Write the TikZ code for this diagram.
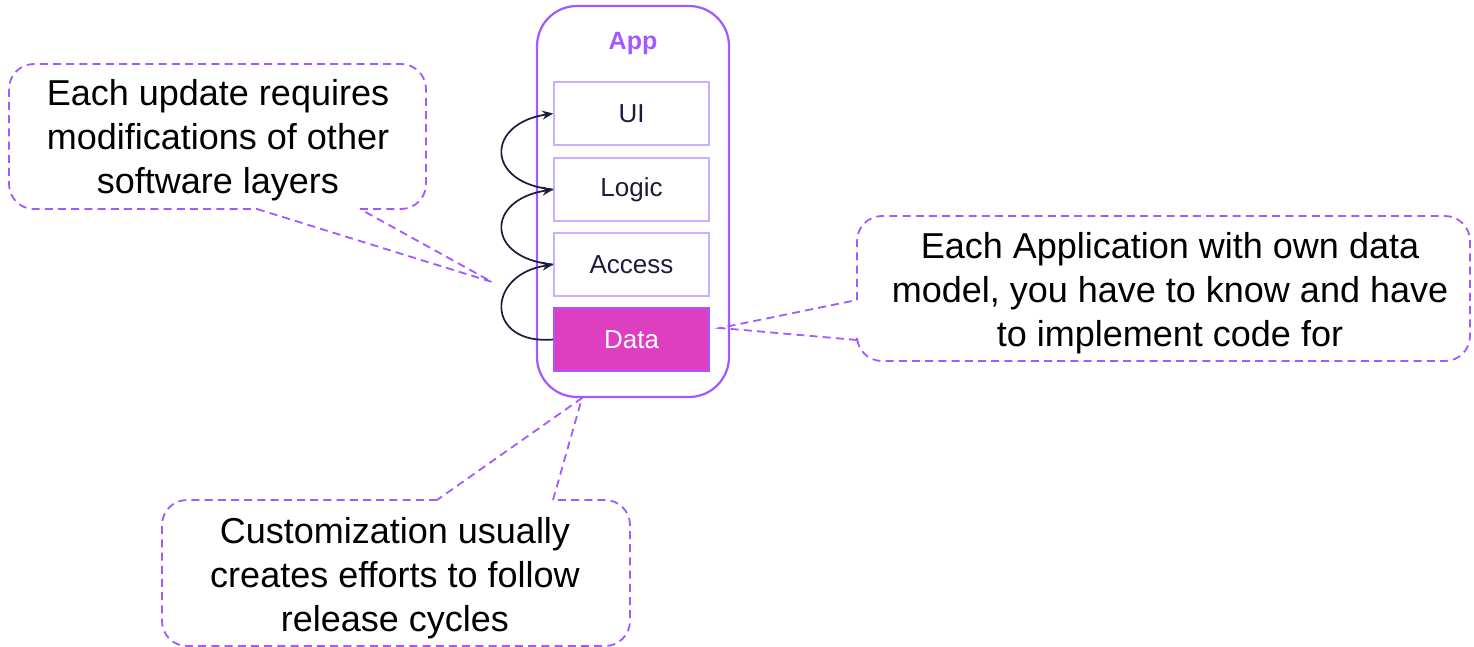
\documentclass[tikz,border=0pt]{standalone}
\usepackage{fontspec}
\setmainfont{Liberation Sans}
\usepackage{tikz}
\usetikzlibrary{arrows.meta}
\definecolor{apppurple}{HTML}{A259FF}
\definecolor{layerline}{HTML}{CDAEFF}
\definecolor{datafill}{HTML}{DE3EC0}
\definecolor{arrowink}{HTML}{1B1B3A}

\begin{document}
\begin{tikzpicture}[x=0.5pt, y=-0.5pt,
    layer/.style={draw=layerline, line width=0.8pt, minimum width=77.5pt, minimum height=31.5pt, font=\fontsize{13}{15}\selectfont, text=arrowink},
    note/.style={align=center, font=\fontsize{18}{22}\selectfont},
    noteline/.style={draw=apppurple, line width=0.9pt, dash pattern=on 4pt off 2.6pt},
    flow/.style={draw=arrowink, line width=0.85pt, -{Stealth[length=5.5pt, width=4.5pt]}}]
      \useasboundingbox (0, 0) rectangle (1474, 647);

      \node[draw=apppurple, line width=1.1pt, rounded corners=20pt, minimum width=96pt, minimum height=195.5pt] (app) at (633, 201.5){};
      \node[text=apppurple, font=\bfseries\fontsize{12.5}{14}\selectfont] (applabel) at (633, 43){App};
      \node[layer] (ui) at (631.5, 113.5){UI};
      \node[layer] (logic) at (631.5, 189.5){Logic};
      \node[layer] (access) at (631.5, 264.5){Access};
      \node[layer, draw=apppurple, fill=datafill, text=white] (data) at (631.5, 339.5){Data};

      \draw[flow] (data.west) .. controls +(-68, 6) and +(-68, 10) .. (access.west);
      \draw[flow] (access.west) .. controls +(-68, -6) and +(-68, 10) .. (logic.west);
      \draw[flow] (logic.west) .. controls +(-68, -6) and +(-68, 10) .. (ui.west);

      % callouts
      \node[note] (upd) at (218, 140){Each update requires\\modifications of other\\software layers};
      \node[note] (appl) at (1170, 293){Each Application with own data\\model, you have to know and have\\to implement code for};
      \node[note] (cust) at (395, 578){Customization usually\\creates efforts to follow\\release cycles};

      \coordinate (updtip) at (492, 282);
      \coordinate (appltip) at (720, 328);
      \coordinate (custtip) at (582, 398);

      \draw[noteline] (360, 209) [rounded corners=12.5pt] -| (426, 64) -| (9, 209) -- (257, 209);
      \draw[noteline] (257, 209) -- (updtip) -- (360, 209);

      \draw[noteline] (857, 300) [rounded corners=12.5pt] |- (1470, 216) |- (857, 361) -- (857, 340);
      \draw[noteline] (857, 340) -- (appltip) -- (857, 300);

      \draw[noteline] (437, 500) [rounded corners=12.5pt] -| (162, 646) -| (630, 500) -- (553, 500);
      \draw[noteline] (553, 500) -- (custtip) -- (437, 500);
    \end{tikzpicture}
\end{document}
